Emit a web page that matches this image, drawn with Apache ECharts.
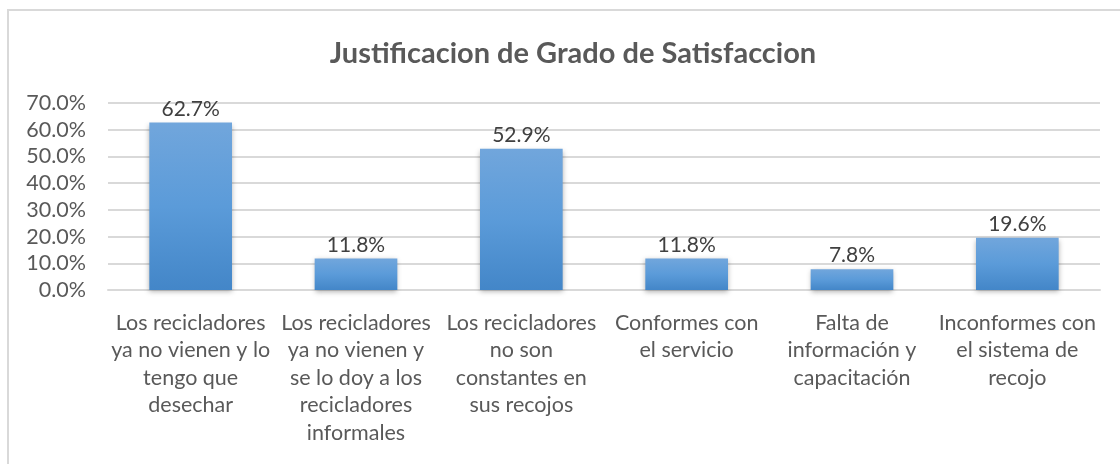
<!DOCTYPE html>
<html>
<head>
<meta charset="utf-8">
<script src="https://cdn.jsdelivr.net/npm/echarts@6/dist/echarts.min.js"></script>
<style>
  html, body { margin: 0; padding: 0; background: #fff; }
  #chart { width: 1120px; height: 464px; }
</style>
</head>
<body>
<div id="chart"></div>
<script>
const categories = [
    'Los recicladores\nya no vienen y lo\ntengo que\ndesechar',
    'Los recicladores\nya no vienen y\nse lo doy a los\nrecicladores\ninformales',
    'Los recicladores\nno son\nconstantes en\nsus recojos',
    'Conformes con\nel servicio',
    'Falta de\ninformación y\ncapacitación',
    'Inconformes con\nel sistema de\nrecojo'
];
const values = [62.7, 11.8, 52.9, 11.8, 7.8, 19.6];
const titleText = 'Justificacion de Grado de Satisfaccion';

const font = 'Lato, "Open Sans", sans-serif';
const textColor = '#595959';

const chart = echarts.init(document.getElementById('chart'));
chart.setOption({
    animation: false,
    textStyle: { fontFamily: font },
    title: {
        text: titleText,
        left: 568,
        top: 34,
        textAlign: 'center',
        textStyle: { fontFamily: font, fontSize: 29, fontWeight: 'bold', color: textColor }
    },
    graphic: [{
        type: 'rect',
        shape: { x: 8, y: 10, width: 1200, height: 500 },
        style: { fill: 'none', stroke: '#d9d9d9', lineWidth: 2 },
        silent: true
    }],
    grid: { left: 108, right: 20, top: 103, bottom: 174 },
    xAxis: {
        type: 'category',
        data: categories,
        axisLine: { show: true, lineStyle: { color: '#d9d9d9', width: 2 } },
        axisTick: { show: false },
        axisLabel: {
            interval: 0,
            margin: 19,
            fontFamily: font,
            fontSize: 21.5,
            lineHeight: 27.5,
            color: textColor,
            align: 'center'
        }
    },
    yAxis: {
        type: 'value',
        min: 0,
        max: 70,
        interval: 10,
        axisLine: { show: false },
        axisTick: { show: false },
        splitLine: { lineStyle: { color: '#d9d9d9', width: 2 } },
        axisLabel: {
            margin: 22,
            fontFamily: font,
            fontSize: 21.5,
            color: textColor,
            formatter: v => v.toFixed(1) + '%'
        }
    },
    series: [{
        type: 'bar',
        data: values,
        barWidth: '50%',
        itemStyle: {
            color: new echarts.graphic.LinearGradient(0, 0, 0, 1, [
                { offset: 0, color: '#71a6dc' },
                { offset: 0.5, color: '#5b9bd9' },
                { offset: 1, color: '#4386c8' }
            ]),
            shadowColor: 'rgba(0,0,0,0.3)',
            shadowBlur: 5,
            shadowOffsetY: 2
        },
        label: {
            show: true,
            position: 'top',
            distance: 3,
            fontFamily: font,
            fontSize: 21,
            color: '#404040',
            formatter: p => p.value.toFixed(1) + '%'
        }
    }]
});
</script>
</body>
</html>
